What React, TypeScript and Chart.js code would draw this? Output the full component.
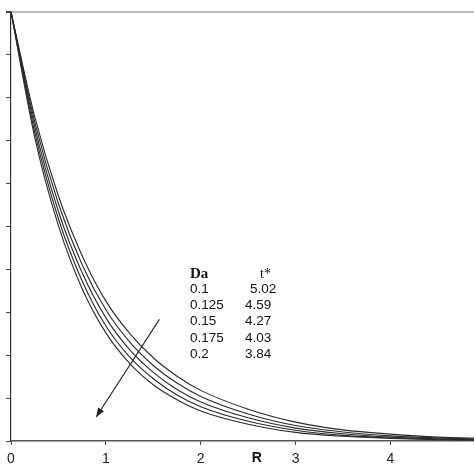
import React, { useEffect, useRef } from "react";
import { Chart, registerables } from "chart.js";

Chart.register(...registerables);

// R values (x) at which curves were read
const rValues = [0, 0.25, 0.5, 0.75, 1, 1.25, 1.5, 1.75, 2, 2.5, 3, 3.5, 4, 4.5, 5];

// curves, from the upper one (Da = 0.1) to the lower one (Da = 0.2)
const seriesDa010 = [10, 7.56, 5.71, 4.32, 3.26, 2.51, 1.94, 1.51, 1.18, 0.74, 0.44, 0.26, 0.16, 0.09, 0.06];
const seriesDa0125 = [10, 7.44, 5.53, 4.11, 3.06, 2.31, 1.76, 1.35, 1.04, 0.63, 0.36, 0.21, 0.12, 0.07, 0.04];
const seriesDa015 = [10, 7.32, 5.35, 3.92, 2.87, 2.13, 1.6, 1.2, 0.91, 0.54, 0.3, 0.17, 0.09, 0.05, 0.03];
const seriesDa0175 = [10, 7.2, 5.18, 3.73, 2.68, 1.96, 1.45, 1.07, 0.8, 0.46, 0.25, 0.13, 0.07, 0.04, 0.02];
const seriesDa020 = [10, 7.08, 5.02, 3.55, 2.52, 1.81, 1.31, 0.96, 0.7, 0.39, 0.2, 0.11, 0.06, 0.03, 0.02];

const allSeries = [seriesDa010, seriesDa0125, seriesDa015, seriesDa0175, seriesDa020];

// legend table
const daLabels = ["0.1", "0.125", "0.15", "0.175", "0.2"];
const tStarLabels = ["5.02", "4.59", "4.27", "4.03", "3.84"];

// arrow (data coords): start, end
const arrowFrom = [1.564, 2.835];
const arrowTo = [0.898, 0.56];

const xTickValues = [0, 1, 2, 3, 4];

const overlayPlugin = {
  id: "overlay",
  afterDraw(chart: any) {
    const ctx = chart.ctx;
    const xs = chart.scales.x;
    const ys = chart.scales.y;
    ctx.save();
    // arrow
    const x1 = xs.getPixelForValue(arrowFrom[0]);
    const y1 = ys.getPixelForValue(arrowFrom[1]);
    const x2 = xs.getPixelForValue(arrowTo[0]);
    const y2 = ys.getPixelForValue(arrowTo[1]);
    ctx.strokeStyle = "#222";
    ctx.fillStyle = "#222";
    ctx.lineWidth = 1.1;
    ctx.beginPath();
    ctx.moveTo(x1, y1);
    ctx.lineTo(x2, y2);
    ctx.stroke();
    const ang = Math.atan2(y2 - y1, x2 - x1);
    const hl = 9;
    const hw = 3.5;
    ctx.beginPath();
    ctx.moveTo(x2, y2);
    ctx.lineTo(x2 - hl * Math.cos(ang) + hw * Math.sin(ang), y2 - hl * Math.sin(ang) - hw * Math.cos(ang));
    ctx.lineTo(x2 - hl * Math.cos(ang) - hw * Math.sin(ang), y2 - hl * Math.sin(ang) + hw * Math.cos(ang));
    ctx.closePath();
    ctx.fill();

    // legend table
    const left = chart.chartArea.left;
    const top = chart.chartArea.top;
    ctx.fillStyle = "#111";
    ctx.textBaseline = "alphabetic";
    ctx.textAlign = "left";
    ctx.font = "bold 15px 'Liberation Serif', 'Times New Roman', serif";
    ctx.fillText("Da", left + 179, top + 266);
    ctx.font = "14px 'Liberation Serif', 'Times New Roman', serif";
    ctx.fillText("t*", left + 249, top + 266);
    ctx.font = "13.5px 'Liberation Sans', Arial, sans-serif";
    daLabels.forEach((d, i) => {
      const yy = top + 281 + i * 16.2;
      ctx.fillText(d, left + 179, yy);
      ctx.fillText(tStarLabels[i], left + (i === 0 ? 239 : 234), yy);
    });

    // axis title R
    ctx.font = "bold 14px 'Liberation Sans', Arial, sans-serif";
    ctx.textAlign = "center";
    ctx.textBaseline = "top";
    ctx.fillText("R", xs.getPixelForValue(2.59), chart.chartArea.bottom + 10);
    ctx.restore();
  },
};

export default function App() {
  const ref = useRef<HTMLCanvasElement | null>(null);
  useEffect(() => {
    if (!ref.current) return;
    const chart = new Chart(ref.current, {
      type: "line",
      data: {
        datasets: allSeries.map((s) => ({
          data: rValues.map((r, i) => ({ x: r, y: s[i] })),
          borderColor: "#2a2a2a",
          borderWidth: 1.1,
          pointRadius: 0,
          fill: false,
          cubicInterpolationMode: "monotone" as const,
        })),
      },
      options: {
        animation: false,
        responsive: false,
        devicePixelRatio: 1,
        layout: { padding: { top: 12, right: 0, left: 0, bottom: 0 } },
        plugins: { legend: { display: false }, tooltip: { enabled: false } },
        scales: {
          x: {
            type: "linear",
            min: 0,
            max: 4.88,
            afterBuildTicks: (scale: any) => {
              scale.ticks = xTickValues.map((v) => ({ value: v }));
            },
            afterFit: (scale: any) => {
              scale.height = 33;
            },
            ticks: {
              stepSize: 1,
              padding: 6,
              color: "#222",
              font: { family: "'Liberation Sans', Arial, sans-serif", size: 14 },
              maxRotation: 0,
            },
            grid: {
              drawOnChartArea: false,
              drawTicks: true,
              tickLength: 4,
              tickColor: "#444",
            },
            border: { display: true, color: "#555", width: 1.5 },
          },
          y: {
            type: "linear",
            min: 0,
            max: 10,
            afterFit: (scale: any) => {
              scale.width = 11;
            },
            ticks: { stepSize: 1, display: false },
            grid: {
              drawOnChartArea: true,
              drawTicks: true,
              tickLength: 5,
              tickColor: "#444",
              color: (c: any) => (c.tick && c.tick.value === 10 ? "#bdbdbd" : "rgba(0,0,0,0)"),
              lineWidth: (c: any) => (c.tick && c.tick.value === 10 ? 2 : 1),
            },
            border: { display: true, color: "#333", width: 1.2 },
          },
        },
      },
      plugins: [overlayPlugin],
    });
    return () => chart.destroy();
  }, []);
  return (
    <div style={{ position: "absolute", left: 0, top: 0, width: 474, height: 474, background: "#fff" }}>
      <canvas ref={ref} width={474} height={474} style={{ width: 474, height: 474 }} />
    </div>
  );
}
